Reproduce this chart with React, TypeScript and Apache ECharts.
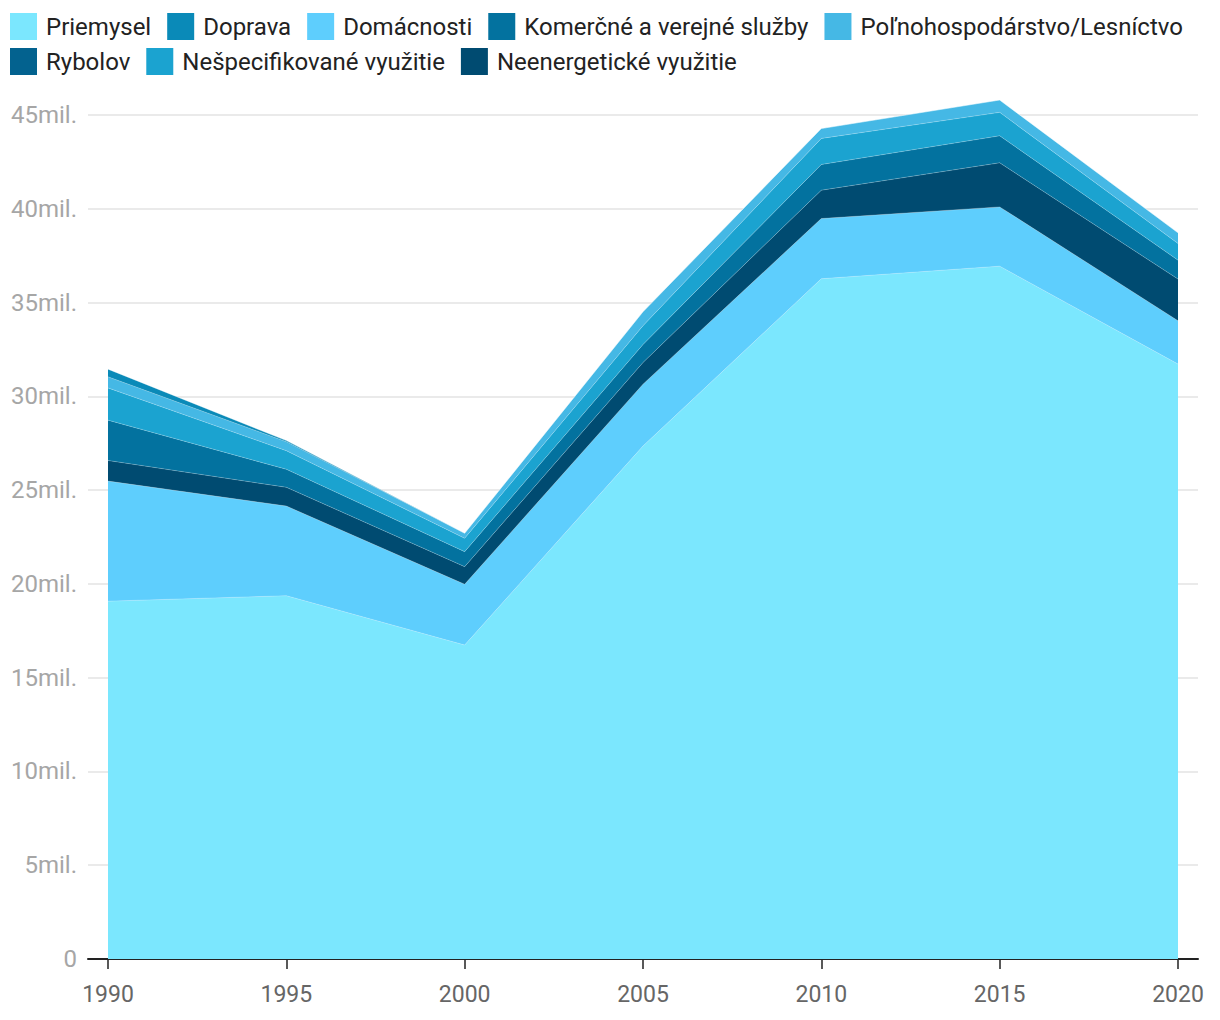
import React, { useEffect, useRef } from "react";
import * as echarts from "echarts";

const years = ["1990", "1995", "2000", "2005", "2010", "2015", "2020"];

// values in millions
const priemysel = [19.08, 19.37, 16.74, 27.35, 36.27, 36.94, 31.72];
const domacnosti = [6.4, 4.78, 3.24, 3.3, 3.21, 3.16, 2.31];
const neenergeticke = [1.1, 1.0, 0.94, 1.15, 1.51, 2.35, 2.22];
const komercne = [2.15, 0.96, 0.8, 0.96, 1.37, 1.44, 1.01];
const nespecifikovane = [1.72, 0.99, 0.71, 1.0, 1.39, 1.25, 0.89];
const polnohospodarstvo = [0.59, 0.48, 0.27, 0.75, 0.53, 0.66, 0.57];
const doprava = [0.41, 0.06, 0, 0, 0, 0, 0];
const rybolov = [0, 0, 0, 0, 0, 0, 0];

const legendRow1 = ["Priemysel", "Doprava", "Domácnosti", "Komerčné a verejné služby", "Poľnohospodárstvo/Lesníctvo"];
const legendRow2 = ["Rybolov", "Nešpecifikované využitie", "Neenergetické využitie"];

const stackOrder: [string, number[], string][] = [
  ["Priemysel", priemysel, "#7be7fe"],
  ["Domácnosti", domacnosti, "#5ecefd"],
  ["Neenergetické využitie", neenergeticke, "#004b71"],
  ["Komerčné a verejné služby", komercne, "#03729f"],
  ["Nešpecifikované využitie", nespecifikovane, "#1ba3d0"],
  ["Poľnohospodárstvo/Lesníctvo", polnohospodarstvo, "#45b8e5"],
  ["Doprava", doprava, "#0a8ab8"],
  ["Rybolov", rybolov, "#03628f"],
];

const FONT = "Roboto, 'Noto Sans', sans-serif";

export default function App() {
  const ref = useRef<HTMLDivElement>(null);
  useEffect(() => {
    document.body.style.margin = "0";
    if (!ref.current) return;
    const chart = echarts.init(ref.current, undefined, { renderer: "svg" });
    const legendCommon = {
      icon: "rect",
      itemWidth: 27,
      itemHeight: 27,
      itemGap: 16,
      padding: 0,
      left: 10,
      textStyle: { fontSize: 24, color: "#222", fontFamily: FONT, padding: [0, 0, 0, 4] },
    };
    chart.setOption({
      animation: false,
      textStyle: { fontFamily: FONT },
      legend: [
        { ...legendCommon, top: 13, data: legendRow1 },
        { ...legendCommon, top: 48, data: legendRow2 },
      ],
      grid: [
        { left: 88, right: 22, top: 115, bottom: 61, containLabel: false },
        { left: 108, right: 42, top: 115, bottom: 61, containLabel: false },
      ],
      xAxis: [
        {
          gridIndex: 0,
          type: "value",
          min: 0,
          max: 1,
          axisLine: { show: true, lineStyle: { color: "#222", width: 2 } },
          axisTick: { show: false },
          axisLabel: { show: false },
          splitLine: { show: false },
        },
        {
          gridIndex: 1,
          type: "category",
          data: years,
          boundaryGap: false,
          axisLine: { show: false },
          axisTick: { show: true, length: 10, lineStyle: { color: "#222", width: 1.5 } },
          axisLabel: { fontSize: 23, color: "#666", margin: 24, fontFamily: FONT },
          splitLine: { show: false },
        },
      ],
      yAxis: [
        {
          gridIndex: 0,
          type: "value",
          min: 0,
          max: 45,
          interval: 5,
          axisLine: { show: false },
          axisTick: { show: false },
          axisLabel: {
            fontSize: 24,
            color: "#a6a6a6",
            margin: 11,
            fontFamily: FONT,
            formatter: (v: number) => (v === 0 ? "0" : `${v}mil.`),
          },
          splitLine: { show: true, lineStyle: { color: "#e3e3e3", width: 1.5 } },
        },
        {
          gridIndex: 1,
          type: "value",
          min: 0,
          max: 45,
          interval: 5,
          show: false,
          splitLine: { show: false },
        },
      ],
      series: stackOrder.map(([name, vals, color]) => ({
        name,
        type: "line",
        xAxisIndex: 1,
        yAxisIndex: 1,
        stack: "total",
        clip: false,
        showSymbol: false,
        symbol: "none",
        itemStyle: { color },
        lineStyle: { width: 0.6, color: "rgba(255,255,255,0.35)" },
        areaStyle: { color, opacity: 1 },
        data: vals,
      })),
    });
    return () => chart.dispose();
  }, []);
  return <div ref={ref} style={{ width: 1220, height: 1020 }} />;
}
